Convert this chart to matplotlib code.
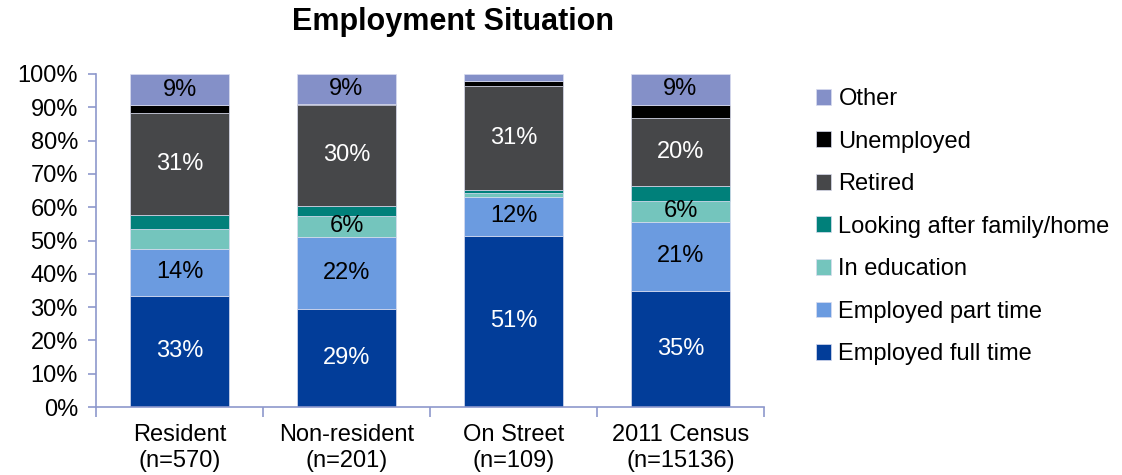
import matplotlib
matplotlib.use("Agg")
import matplotlib.pyplot as plt
import numpy as np

plt.rcParams['font.family'] = ['Liberation Sans', 'DejaVu Sans']

categories = ["Resident\n(n=570)", "Non-resident\n(n=201)", "On Street\n(n=109)", "2011 Census\n(n=15136)"]

# Percentages per group, bottom to top of each stacked bar
employed_full_time = [33.4, 29.4, 51.4, 34.8]
employed_part_time = [14.0, 21.7, 11.7, 20.8]
in_education = [6.1, 6.3, 1.3, 6.3]
looking_after_home = [4.1, 3.0, 0.9, 4.6]
retired = [30.6, 30.3, 31.1, 20.2]
unemployed = [2.4, 0.3, 1.5, 4.0]
other = [9.4, 9.0, 2.1, 9.3]

series_names = ["Employed full time", "Employed part time", "In education",
                "Looking after family/home", "Retired", "Unemployed", "Other"]
series_values = [employed_full_time, employed_part_time, in_education,
                 looking_after_home, retired, unemployed, other]
series_colors = ["#023d99", "#6b9be0", "#74c5bd", "#00807a", "#464749", "#000000", "#8490c8"]
label_colors = ["white", "black", "black", "white", "white", "white", "black"]

# Which segments carry a data label
show_label = [
    [True, True, True, True],
    [True, True, True, True],
    [False, True, False, True],
    [False, False, False, False],
    [True, True, True, True],
    [False, False, False, False],
    [True, True, False, True],
]

fig = plt.figure(figsize=(11.22, 4.75), dpi=100)
ax = fig.add_axes([96 / 1122, 68 / 475, 668 / 1122, 333 / 475])

x = np.arange(len(categories))
bottom = np.zeros(len(categories))
handles = []
for name, vals, col, lcol, mask in zip(series_names, series_values, series_colors,
                                       label_colors, show_label):
    vals = np.array(vals)
    bars = ax.bar(x, vals, bottom=bottom, width=0.59, color=col, label=name,
                  edgecolor="#d9dcef", linewidth=0.5, zorder=2)
    handles.append(bars)
    for xi, v, b, m in zip(x, vals, bottom, mask):
        if m:
            ax.text(xi, b + v / 2, f"{round(v):d}%", ha="center", va="center",
                    color=lcol, fontsize=17)
    bottom += vals

axis_color = "#8e98cc"
ax.set_xlim(-0.5, len(categories) - 0.5)
ax.set_ylim(0, 100)
ax.set_yticks(np.arange(0, 101, 10))
ax.set_yticklabels([f"{v}%" for v in range(0, 101, 10)])
ax.set_xticks(x)
ax.set_xticklabels(categories, linespacing=1.25)
ax.set_xticks(np.arange(-0.5, len(categories), 1.0), minor=True)
ax.tick_params(axis="x", which="major", length=0, pad=12, labelsize=17)
ax.tick_params(axis="x", which="minor", length=7, color=axis_color, width=1.2)
ax.tick_params(axis="y", length=6, color=axis_color, width=1.2, labelsize=17, pad=7)
for side in ["top", "right"]:
    ax.spines[side].set_visible(False)
for side in ["left", "bottom"]:
    ax.spines[side].set_color(axis_color)
    ax.spines[side].set_linewidth(1.2)

fig.text(453 / 1122, 1 - 22 / 475, "Employment Situation", ha="center", va="center",
         fontsize=22, fontweight="bold")

leg = fig.legend(handles[::-1], series_names[::-1], loc="upper left",
                 bbox_to_anchor=(816 / 1122, 1 - 88 / 475), frameon=False,
                 fontsize=17, handlelength=0.65, handleheight=0.65, handletextpad=0.3,
                 labelspacing=0.87, borderpad=0, borderaxespad=0)

fig.savefig("out.png", dpi=100)
